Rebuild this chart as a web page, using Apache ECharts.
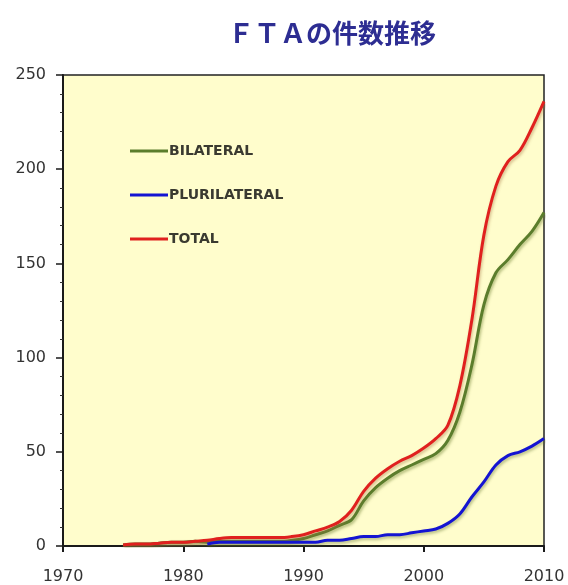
<!DOCTYPE html>
<html>
<head>
<meta charset="utf-8">
<script src="https://cdn.jsdelivr.net/npm/echarts@6/dist/echarts.min.js"></script>
<style>
  html, body { margin: 0; padding: 0; background: #ffffff; }
  #chart { width: 568px; height: 585px; }
</style>
</head>
<body>
<div id="chart"></div>
<script>
// FTA counts per year
const years = [1975, 1976, 1977, 1978, 1979, 1980, 1981, 1982, 1983, 1984, 1985, 1986, 1987, 1988, 1989,
  1990, 1991, 1992, 1993, 1994, 1995, 1996, 1997, 1998, 1999, 2000, 2001, 2002, 2003, 2004, 2005,
  2006, 2007, 2008, 2009, 2010];

const bilateral = [0.5, 1, 1, 1.5, 2, 2, 2.5, 2, 2.5, 2.5, 2.5, 2.5, 2.5, 2.5, 3,
  4, 6, 8, 11, 14, 24, 31, 36, 40, 43, 46, 49, 56, 71, 96, 128,
  145, 152, 160, 167, 177];

const plurilateral = [null, null, null, null, null, null, null, 1, 2, 2, 2, 2, 2, 2, 2,
  2, 2, 3, 3, 4, 5, 5, 6, 6, 7, 8, 9, 12, 17, 26, 34,
  43, 48, 50, 53, 57];

const total = [0.5, 1, 1, 1.5, 2, 2, 2.5, 3, 4, 4.5, 4.5, 4.5, 4.5, 4.5, 5,
  6, 8, 10, 13, 19, 29, 36, 41, 45, 48, 52, 57, 64, 85, 120, 165,
  191, 204, 210, 222, 236];

const xTicks = [1970, 1980, 1990, 2000, 2010];
const yTicks = [0, 50, 100, 150, 200, 250];

const pairs = vals => years.map((y, i) => [y, vals[i]]);

const chart = echarts.init(document.getElementById('chart'), null, { renderer: 'canvas' });

function lineSeries(name, vals, color, shadow, z) {
  return {
    name: name,
    type: 'line',
    data: pairs(vals),
    smooth: 0.35,
    symbol: 'none',
    connectNulls: false,
    z: z,
    lineStyle: {
      color: color,
      width: 3,
      shadowColor: shadow,
      shadowBlur: 3,
      shadowOffsetX: 1,
      shadowOffsetY: 2
    },
    itemStyle: { color: color }
  };
}

chart.setOption({
  backgroundColor: '#ffffff',
  animation: false,
  title: {
    text: 'ＦＴＡの件数推移',
    left: 327,
    textAlign: 'center',
    top: 15,
    textStyle: {
      fontFamily: 'Noto Sans CJK JP',
      fontSize: 26,
      fontWeight: 'bold',
      color: '#2d2d92'
    }
  },
  legend: {
    orient: 'vertical',
    left: 125,
    top: 139,
    itemGap: 30,
    itemWidth: 38,
    itemHeight: 3,
    icon: 'rect',
    data: ['BILATERAL', 'PLURILATERAL', 'TOTAL'],
    textStyle: {
      fontFamily: 'DejaVu Sans',
      fontSize: 14,
      fontWeight: 'bold',
      color: '#3a3a30',
      padding: [0, 0, 0, -4]
    }
  },
  grid: {
    left: 63,
    right: 24,
    top: 75,
    bottom: 38,
    show: true,
    backgroundColor: '#fffdcc',
    borderColor: '#222222',
    borderWidth: 1.5
  },
  xAxis: {
    type: 'value',
    min: xTicks[0],
    max: xTicks[xTicks.length - 1],
    interval: 10,
    splitLine: { show: false },
    axisLine: { show: true, lineStyle: { color: '#1a1a1a', width: 2 } },
    axisTick: { show: true, inside: false, length: 6, lineStyle: { color: '#1a1a1a', width: 2 } },
    axisLabel: {
      margin: 23,
      fontFamily: 'DejaVu Sans',
      fontSize: 16,
      color: '#333333',
      formatter: v => String(v)
    }
  },
  yAxis: {
    type: 'value',
    min: yTicks[0],
    max: yTicks[yTicks.length - 1],
    interval: 50,
    splitLine: { show: false },
    axisLine: { show: true, lineStyle: { color: '#1a1a1a', width: 2 } },
    axisTick: { show: true, inside: false, length: 7, lineStyle: { color: '#1a1a1a', width: 1.5 } },
    minorTick: { show: true, splitNumber: 5, length: 3, lineStyle: { color: '#333333', width: 1 } },
    axisLabel: {
      margin: 17,
      fontFamily: 'DejaVu Sans',
      fontSize: 16,
      color: '#333333'
    }
  },
  series: [
    lineSeries('BILATERAL', bilateral, '#5b7d2c', 'rgba(110,130,50,0.55)', 2),
    lineSeries('PLURILATERAL', plurilateral, '#1414d2', 'rgba(90,110,40,0.45)', 4),
    lineSeries('TOTAL', total, '#e0201e', 'rgba(160,110,60,0.45)', 3)
  ]
});
</script>
</body>
</html>
